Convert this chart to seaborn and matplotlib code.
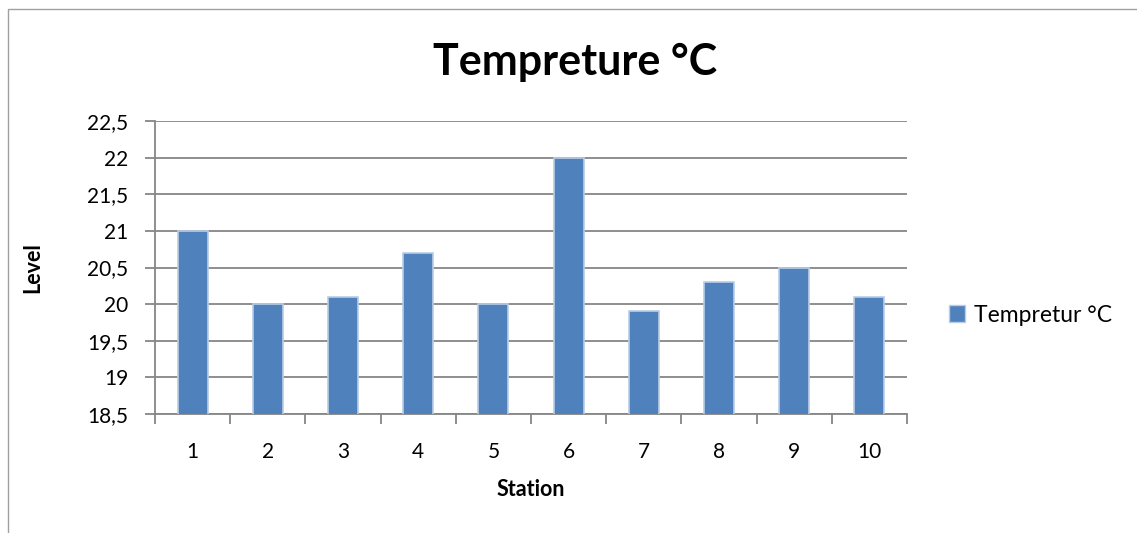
import matplotlib
matplotlib.use("Agg")
import matplotlib.pyplot as plt
import seaborn as sns
import pandas as pd
from matplotlib.patches import Rectangle, Patch
from matplotlib.ticker import FuncFormatter, FixedLocator

stations = ["1", "2", "3", "4", "5", "6", "7", "8", "9", "10"]
temps = [21.0, 20.0, 20.1, 20.7, 20.0, 22.0, 19.9, 20.3, 20.5, 20.1]
series_name = "Tempretur °C"
title = "Tempreture °C"
y_ticks = [18.5, 19, 19.5, 20, 20.5, 21, 21.5, 22, 22.5]

sns.set_style("white")
plt.rcParams['font.family'] = ['Lato', 'DejaVu Sans']
plt.rcParams['text.color'] = 'black'
plt.rcParams['axes.labelcolor'] = 'black'
plt.rcParams['xtick.color'] = 'black'
plt.rcParams['ytick.color'] = 'black'

df = pd.DataFrame({"Station": stations, "Level": temps})

fig = plt.figure(figsize=(11.37, 5.33), dpi=100)
ax = fig.add_axes([155/1137, 1-414/533, (907-155)/1137, (414-121)/533])

face = "#4f81bd"
edge = "#b9cde5"
sns.barplot(data=df, x="Station", y="Level", color=face, width=0.4,
            edgecolor=edge, linewidth=1.2, saturation=1, ax=ax, zorder=3)

ax.set_ylim(18.5, 22.5)
ax.set_xlim(-0.5, len(stations) - 0.5)
ax.yaxis.set_major_locator(FixedLocator(y_ticks))
ax.yaxis.set_major_formatter(FuncFormatter(lambda v, p: (f"{v:g}").replace(".", ",")))
ax.grid(axis="y", color="#868686", linewidth=1.3, zorder=0)
ax.set_axisbelow(True)

for s in ["top", "right"]:
    ax.spines[s].set_visible(False)
for s in ["left", "bottom"]:
    ax.spines[s].set_color("#868686")
    ax.spines[s].set_linewidth(1.3)

ax.tick_params(axis="y", which="major", left=True, length=7, width=1.3, color="#868686",
               labelsize=15, pad=12, labelcolor="black")
ax.tick_params(axis="x", which="major", length=0, labelsize=15, pad=20, labelcolor="black")
ax.set_xticks([i - 0.5 for i in range(len(stations) + 1)], minor=True)
ax.tick_params(axis="x", which="minor", bottom=True, length=7, width=1.3, color="#868686")

ax.set_xlabel("Station", fontsize=15.5, fontweight="bold", va="center")
ax.set_ylabel("Level", fontsize=15.5, fontweight="bold", va="center")
ax.xaxis.set_label_coords((531-155)/752, (414-490)/293)
ax.yaxis.set_label_coords((33-155)/752, 0.5)

fig.text(575/1137, 1-62/533, title, fontsize=31, fontweight="bold", ha="center", va="center",
         color="black")

handle = Patch(facecolor=face, edgecolor=edge, linewidth=1)
fig.legend([handle], [series_name], loc="center left", bbox_to_anchor=(928/1137, 1-315/533),
           frameon=False, fontsize=16.5, handlelength=0.7, handleheight=0.7, handletextpad=0.4)

fig.patches.append(Rectangle((8/1137, -0.1), 1.2, 1 - 9/533 + 0.1, transform=fig.transFigure,
                             fill=False, edgecolor="#a0a0a0", linewidth=1, figure=fig))

fig.savefig("out.png", dpi=100, facecolor="white")
